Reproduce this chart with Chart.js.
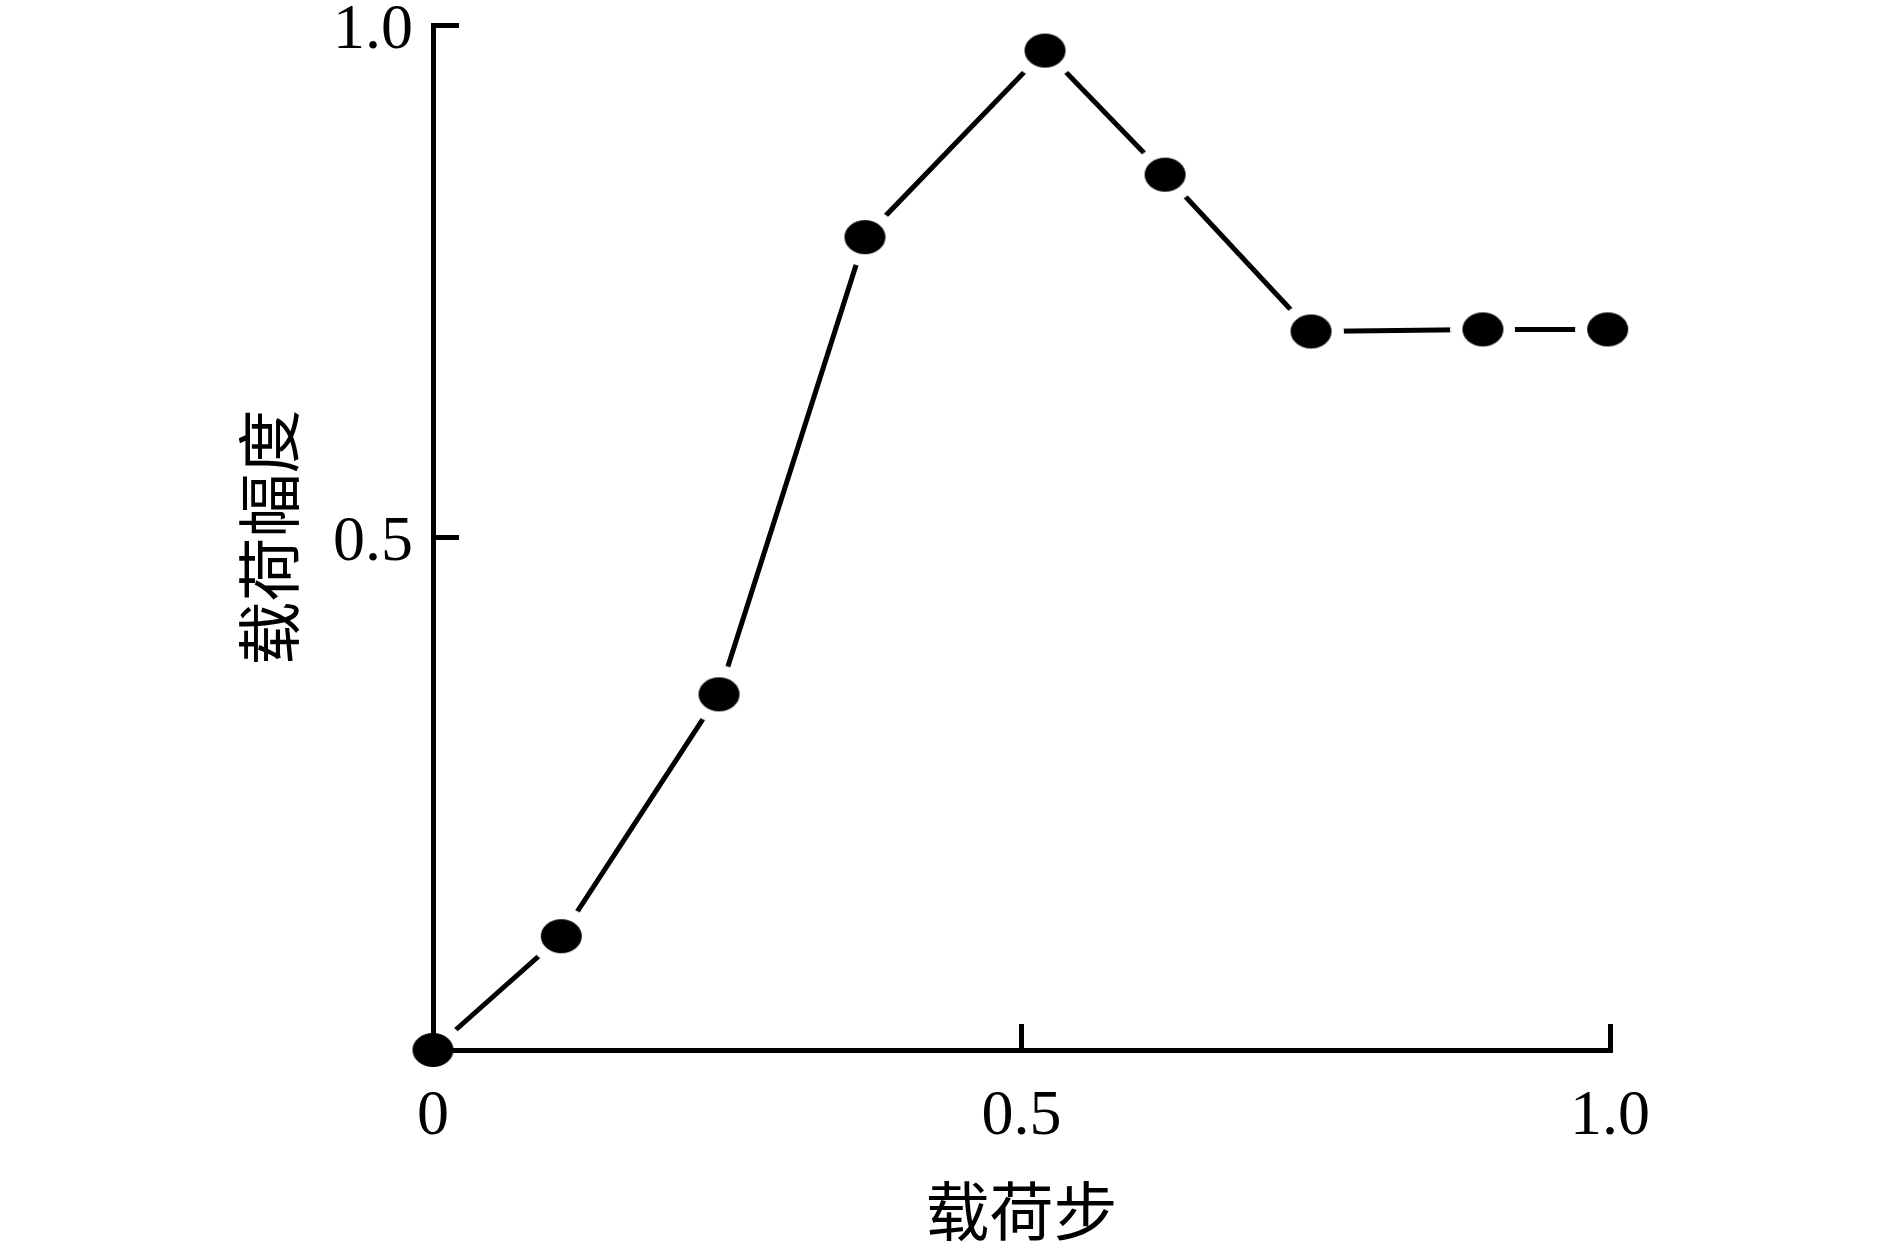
<!DOCTYPE html>
<html>
<head>
<meta charset="utf-8">
<script src="https://cdn.jsdelivr.net/npm/chart.js@4/dist/chart.umd.min.js"></script>
<style>
  body { margin: 0; background: #fff; }
  canvas { display: block; }
</style>
</head>
<body>
<canvas id="loadChart" width="1890" height="1254"></canvas>
<script>
const loadStep = [0, 0.109, 0.243, 0.367, 0.52, 0.622, 0.746, 0.892, 0.998];
const loadAmplitude = [0, 0.111, 0.347, 0.793, 0.975, 0.854, 0.701, 0.703, 0.703];
const xTickValues = [0, 0.5, 1.0];
const xTickLabels = ["0", "0.5", "1.0"];
const yTickValues = [0, 0.5, 1.0];
const yTickLabels = ["", "0.5", "1.0"];
const xTitle = "载荷步";
const yTitle = "载荷幅度";

// elliptical marker with a white halo, so the line stops short of each dot
function makeMarker(rx, ry, gap) {
    const c = document.createElement("canvas");
    c.width = Math.ceil(2 * (rx + gap));
    c.height = Math.ceil(2 * (ry + gap));
    const g = c.getContext("2d");
    const cx = c.width / 2, cy = c.height / 2;
    g.fillStyle = "#fff";
    g.beginPath();
    g.ellipse(cx, cy, rx + gap, ry + gap, 0, 0, Math.PI * 2);
    g.fill();
    g.fillStyle = "#000";
    g.beginPath();
    g.ellipse(cx, cy, rx, ry, 0, 0, Math.PI * 2);
    g.fill();
    return c;
}

const tickFont = { family: "'Liberation Serif', 'Times New Roman', serif", size: 64, lineHeight: 1.2 };
const titleFont = { family: "'Noto Sans CJK SC', sans-serif", size: 64, lineHeight: 1.2 };

function createLoadChart() {
    const ctx = document.getElementById("loadChart");
    new Chart(ctx, {
        type: "line",
        data: {
            datasets: [
                {
                    data: loadStep.map((x, i) => ({ x: x, y: loadAmplitude[i] })),
                    borderColor: "#000",
                    borderWidth: 5,
                    fill: false,
                    tension: 0,
                    clip: false,
                    pointStyle: makeMarker(20.5, 17, 12),
                    pointRadius: 20,
                },
            ],
        },
        options: {
            responsive: false,
            animation: false,
            devicePixelRatio: 1,
            layout: { padding: { left: 0, top: 25, right: 280, bottom: 0 } },
            plugins: {
                legend: { display: false },
                tooltip: { enabled: false },
            },
            scales: {
                x: {
                    type: "linear",
                    min: 0,
                    max: 1,
                    afterBuildTicks: (scale) => {
                        scale.ticks = xTickValues.map((v) => ({ value: v }));
                    },
                    afterFit: (scale) => {
                        scale.height = 204;
                        scale.paddingLeft = 0;
                        scale.paddingRight = 0;
                    },
                    grid: { drawOnChartArea: false, tickLength: -26, tickWidth: 5, color: "#000", z: 1 },
                    border: { color: "#000", width: 5, z: 1 },
                    ticks: {
                        color: "#000",
                        font: tickFont,
                        padding: 55,
                        maxRotation: 0,
                        z: 1,
                        callback: (v) => xTickLabels[xTickValues.indexOf(v)],
                    },
                    title: {
                        display: true,
                        text: xTitle,
                        color: "#000",
                        font: titleFont,
                        padding: { top: 0, bottom: 5 },
                    },
                },
                y: {
                    type: "linear",
                    min: 0,
                    max: 1,
                    afterBuildTicks: (scale) => {
                        scale.ticks = yTickValues.map((v) => ({ value: v }));
                    },
                    afterFit: (scale) => {
                        scale.width = 433;
                        scale.paddingTop = 0;
                        scale.paddingBottom = 0;
                    },
                    grid: { drawOnChartArea: false, tickLength: -26, tickWidth: 5, color: "#000", z: 1 },
                    border: { color: "#000", width: 5, z: 1 },
                    ticks: {
                        color: "#000",
                        font: tickFont,
                        padding: 46,
                        labelOffset: 6,
                        z: 1,
                        callback: (v) => yTickLabels[yTickValues.indexOf(v)],
                    },
                    title: {
                        display: true,
                        text: yTitle,
                        color: "#000",
                        font: titleFont,
                        padding: { top: 230, bottom: 0 },
                    },
                },
            },
        },
    });
}

createLoadChart();
</script>
</body>
</html>
